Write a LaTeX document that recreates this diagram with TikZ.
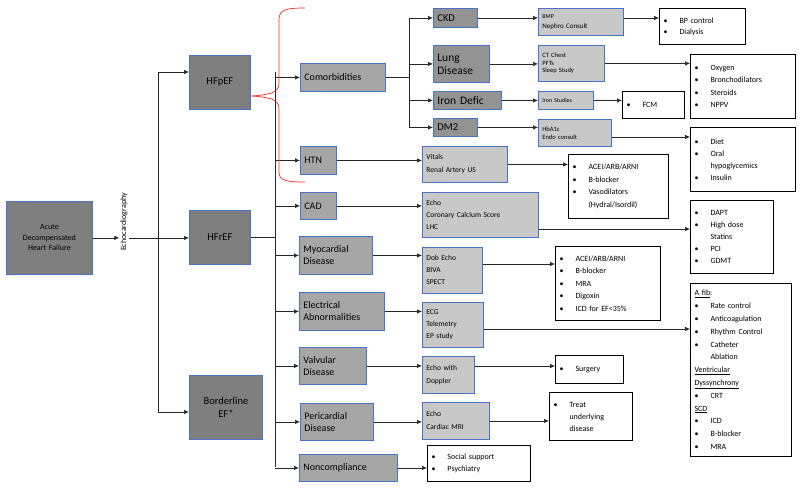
\documentclass[tikz,border=0pt]{standalone}
\usepackage{fontspec}
\setmainfont{Carlito}
\usetikzlibrary{arrows.meta,calc}
\definecolor{bord}{HTML}{4A72C4}
\definecolor{dk}{HTML}{7F7F7F}
\definecolor{md}{HTML}{A6A6A6}
\definecolor{cm}{HTML}{939393}
\definecolor{lt}{HTML}{C8C8C8}
\newcommand\itm{\makebox[16pt][l]{\textbullet}}
\newcommand\ind{\hspace*{16pt}}
\begin{document}
\begin{tikzpicture}[x=1pt,y=-1pt,
  base/.style={draw=bord,line width=0.8pt,anchor=north west,inner sep=3pt,align=left,text=black},
  hf/.style={base,fill=dk,align=center,font=\fontsize{10.5}{13}\selectfont},
  cat/.style={base,fill=md,font=\fontsize{10}{12}\selectfont},
  sub/.style={base,fill=cm,font=\fontsize{11.5}{13}\selectfont},
  tst/.style={base,fill=lt,font=\fontsize{7.5}{12}\selectfont},
  res/.style={draw=black,line width=1pt,fill=white,anchor=north west,inner sep=4pt,align=left,font=\fontsize{8}{11}\selectfont},
  arr/.style={-{Latex[length=5pt,width=4.5pt]},line width=0.7pt,black!85},
  ln/.style={line width=0.7pt,black!85}]
\useasboundingbox (0,0) rectangle (800,487);
\def\bx#1#2#3#4#5#6#7{\node[#1,minimum width=#5-#3,minimum height=#6-#4,text width=#5-#3-8] (#2) at (#3,#4) {#7};}
\bx{hf,font=\fontsize{8}{10.5}\selectfont}{adhf}{6}{201}{92}{274}{\centering Acute\\Decompensated\\Heart Failure}
\node[rotate=90,font=\fontsize{8}{9}\selectfont,inner sep=1pt] (echo) at (124,222) {Echocardiography};
\bx{hf}{hfp}{189}{55}{250}{109}{\centering HFpEF}
\bx{hf}{hfr}{189}{210}{250}{264}{\centering HFrEF}
\bx{hf}{bord}{189}{375}{262}{439}{\centering Borderline\\EF*}
\coordinate (t1a) at (158,72); \coordinate (t1b) at (158,412);
\coordinate (t2a) at (275,72); \coordinate (t2b) at (275,467);
\coordinate (t3a) at (409,18); \coordinate (t3b) at (409,127);
\bx{cat}{com}{300}{63}{385}{91}{Comorbidities}
\bx{cat}{htn}{300}{146}{336}{174}{HTN}
\bx{cat}{cad}{300}{192}{336}{219}{CAD}
\bx{cat}{myo}{299}{236}{372}{274}{Myocardial\\Disease}
\bx{cat}{ele}{299}{292}{384}{330}{Electrical\\Abnormalities}
\bx{cat}{val}{299}{347}{366}{384}{Valvular\\Disease}
\bx{cat}{per}{300}{403}{373}{440}{Pericardial\\Disease}
\bx{cat}{non}{299}{454}{397}{481}{Noncompliance}
\bx{sub,font=\fontsize{10.5}{12}\selectfont}{ckd}{433}{8}{477}{27}{CKD}
\bx{sub}{lung}{433}{45}{489}{82}{Lung\\Disease}
\bx{sub}{iron}{433}{91}{501}{109}{Iron Defic}
\bx{sub,font=\fontsize{10.5}{12}\selectfont}{dm}{433}{118}{477}{136}{DM2}
\bx{tst,font=\fontsize{7}{10}\selectfont}{bmp}{538}{8}{623}{35}{{\fontsize{6}{8}\selectfont BMP}\\Nephro Consult}
\bx{tst,font=\fontsize{6.5}{7.5}\selectfont}{ct}{538}{45}{604}{81}{CT Chest\\PFTs\\Sleep Study}
\bx{tst,font=\fontsize{6}{8}\selectfont}{ist}{538}{91}{593}{109}{Iron Studies}
\bx{tst,font=\fontsize{6.5}{8}\selectfont}{hba}{538}{119}{611}{146}{HbA1c\\Endo consult}
\bx{tst,font=\fontsize{7.5}{13}\selectfont}{vit}{422}{146}{507}{182}{Vitals\\Renal Artery US}
\bx{tst}{ecc}{422}{192}{538}{237}{Echo\\Coronary Calcium Score\\LHC}
\bx{tst}{dob}{422}{247}{482}{293}{Dob Echo\\BIVA\\SPECT}
\bx{tst}{ecg}{422}{302}{483}{347}{ECG\\Telemetry\\EP study}
\bx{tst,font=\fontsize{7.5}{13}\selectfont}{edo}{422}{356}{474}{393}{Echo with\\Doppler}
\bx{tst,font=\fontsize{7.5}{13}\selectfont}{emr}{422}{402}{489}{439}{Echo\\Cardiac MRI}
\bx{res}{o1}{659}{8}{745}{44}{\itm BP control\\\itm Dialysis}
\bx{res,font=\fontsize{8}{12.5}\selectfont}{o2}{690}{54}{795}{118}{\itm Oxygen\\\itm Bronchodilators\\\itm Steroids\\\itm NPPV}
\bx{res}{o3}{622}{91}{684}{118}{\itm FCM}
\bx{res,font=\fontsize{8}{12}\selectfont}{o4}{690}{127}{795}{191}{\itm Diet\\\itm Oral\\\ind hypoglycemics\\\itm Insulin}
\bx{res,font=\fontsize{8}{12.5}\selectfont}{o5}{568}{154}{668}{218}{\itm ACEI/ARB/ARNI\\\itm B-blocker\\\itm Vasodilators\\\ind (Hydral/Isordil)}
\bx{res,font=\fontsize{8}{12}\selectfont}{o6}{690}{200}{773}{273}{\itm DAPT\\\itm High dose\\\ind Statins\\\itm PCI\\\itm GDMT}
\bx{res,font=\fontsize{8}{12.5}\selectfont}{o7}{555}{246}{660}{320}{\itm ACEI/ARB/ARNI\\\itm B-blocker\\\itm MRA\\\itm Digoxin\\\itm ICD for EF<35\%}
\bx{res,font=\fontsize{8}{12.8}\selectfont}{o8}{690}{283}{791}{456}{\underline{A fib}:\\\itm Rate control\\\itm Anticoagulation\\\itm Rhythm Control\\\itm Catheter\\\ind Ablation\\\underline{Ventricular}\\\underline{Dyssynchrony}\\\itm CRT\\\underline{SCD}\\\itm ICD\\\itm B-blocker\\\itm MRA}
\bx{res}{o9}{555}{355}{623}{383}{\itm Surgery}
\bx{res,font=\fontsize{8}{12}\selectfont}{o10}{549}{392}{632}{440}{\itm Treat\\\ind underlying\\\ind disease}
\bx{res,font=\fontsize{8}{12}\selectfont}{o11}{427}{445}{530}{481}{\itm Social support\\\itm Psychiatry}
\draw[arr] (adhf.east) -- (adhf.east -| echo.north);
\draw[ln] (adhf.east -| echo.south) -- (adhf.east -| t1a);
\draw[ln] (t1a) -- (t1b);
\draw[arr] (t1a) -- (hfp.west |- t1a);
\draw[arr] (adhf.east -| t1a) -- (hfr.west |- adhf.east);
\draw[arr] (t1b) -- (bord.west |- t1b);
\draw[ln] (hfr.east) -- (hfr.east -| t2a);
\draw[ln] (t2a) -- (t2b);
\foreach \n in {com,htn,cad,myo,ele,val,per,non} \draw[arr] (\n.west -| t2a) -- (\n.west);
\draw[red!85,line width=0.7pt] (305,8) .. controls (285,8) and (279,10) .. (279,20) -- (279,84) .. controls (279,93) and (268,95) .. (hfp.east |- 0,96)
  .. controls (268,97) and (279,99) .. (279,108) -- (279,172) .. controls (279,180) and (285,182) .. (305,182);
\draw[ln] (com.east) -- (com.east -| t3a);
\draw[ln] (t3a) -- (t3b);
\foreach \n in {ckd,lung,iron,dm} \draw[arr] (\n.west -| t3a) -- (\n.west);
\draw[arr] (ckd.east) -- (ckd.east -| bmp.west);
\draw[arr] (lung.east) -- (lung.east -| ct.west);
\draw[arr] (iron.east) -- (iron.east -| ist.west);
\draw[arr] (dm.east) -- (dm.east -| hba.west);
\draw[arr] (htn.east) -- (htn.east -| vit.west);
\draw[arr] (cad.east) -- (cad.east -| ecc.west);
\draw[arr] (myo.east) -- (myo.east -| dob.west);
\draw[arr] (ele.east) -- (ele.east -| ecg.west);
\draw[arr] (val.east) -- (val.east -| edo.west);
\draw[arr] (per.east) -- (per.east -| emr.west);
\draw[arr] (non.east) -- (non.east -| o11.west);
\draw[arr] (bmp.north east |- 0,18) -- (o1.west |- 0,18);
\draw[arr] (ct.east) -- (ct.east -| o2.west);
\draw[arr] (ist.east) -- (ist.east -| o3.west);
\draw[arr] (hba.east |- 0,137) -- (o4.west |- 0,137);
\draw[arr] (vit.east) -- (vit.east -| o5.west);
\draw[arr] (ecc.east |- 0,229) -- (o6.west |- 0,229);
\draw[arr] (dob.east |- 0,264) -- (o7.west |- 0,264);
\draw[arr] (ecg.east |- 0,329) -- (o8.west |- 0,329);
\draw[arr] (edo.east |- 0,366) -- (o9.west |- 0,366);
\draw[arr] (emr.east) -- (emr.east -| o10.west);
\end{tikzpicture}
\end{document}
